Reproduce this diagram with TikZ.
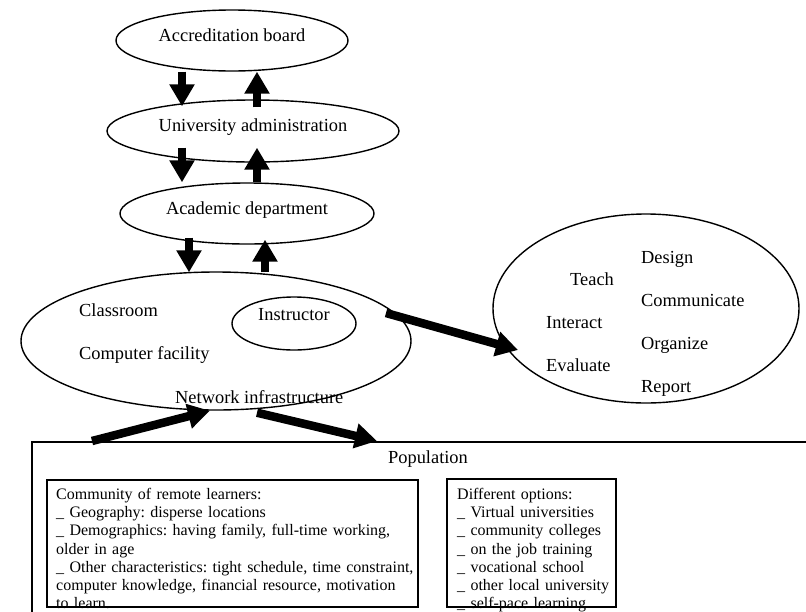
\documentclass[tikz,border=0pt]{standalone}
\usepackage{fontspec}
\setmainfont{Liberation Serif}
\usetikzlibrary{arrows.meta, shapes.geometric, positioning}
\frenchspacing

\begin{document}
\begin{tikzpicture}[x=1pt,y=-1pt,
    every node/.style={font=\fontsize{18.4}{22}\selectfont, inner sep=0pt},
    oval/.style={draw, ellipse, line width=1.4pt, text depth=11pt},
    bigarrow/.style={line width=8.5pt, -{Triangle[length=22pt,width=24pt]}},
    box/.style={draw, rectangle, anchor=north west, line width=2.2pt},
    boxtext/.style={font=\fontsize{16}{18.2}\selectfont, align=left, anchor=north west}]
    \useasboundingbox (0,0) rectangle (806,611);
    \clip (0,0) rectangle (806,611);
    \node[oval, minimum width=232pt, minimum height=61pt] (acc) at (232,40.5) {Accreditation board};
    \node[oval, minimum width=292pt, minimum height=62pt] (uni) at (253,131) {University administration};
    \node[oval, minimum width=254pt, minimum height=61pt] (acad) at (247,213.5) {Academic department};
    \node[oval, minimum width=390pt, minimum height=138pt] (campus) at (216,341) {};
    \node[oval, minimum width=124pt, minimum height=53pt, text depth=18pt] (instr) at (294,323.5) {Instructor};
    \node[anchor=base west] (room) at (79,316) {Classroom};
    \node[anchor=base west] (comp) at (79,359) {Computer facility};
    \node[anchor=base west] (net) at (175,403) {Network infrastructure};
    \node[oval, minimum width=306pt, minimum height=189pt] (tasks) at (646,308.5) {};
    \node[anchor=base west] (design) at (641,263) {Design};
    \node[anchor=base west] (teach) at (570,285) {Teach};
    \node[anchor=base west] (comm) at (641,306) {Communicate};
    \node[anchor=base west] (inter) at (546,328) {Interact};
    \node[anchor=base west] (org) at (641,349) {Organize};
    \node[anchor=base west] (eval) at (546,371) {Evaluate};
    \node[anchor=base west] (report) at (641,392) {Report};
    \node[box, line width=1.8pt, minimum width=790pt, minimum height=190pt] (pop) at (31,441) {};
    \node[anchor=base] (poptitle) at (428,463) {Population};
    \node[box, minimum width=371pt, minimum height=127pt] (learn) at (46,479) {};
    \node[boxtext, text width=360pt] (learntext) at (56,488) {Community of remote learners:\\
        \_ Geography: disperse locations\\
        \_ Demographics: having family, full-time working,\\
        older in age\\
        \_ Other characteristics: tight schedule, time constraint,\\
        computer knowledge, financial resource, motivation\\
        to learn.};
    \node[box, minimum width=169pt, minimum height=128pt] (opt) at (446,478) {};
    \node[boxtext, text width=160pt] (opttext) at (457,488) {Different options:\\
        \_ Virtual universities\\
        \_ community colleges\\
        \_ on the job training\\
        \_ vocational school\\
        \_ other local university\\
        \_ self-pace learning};
    \draw[bigarrow] ([xshift=-50pt]acc.south) -- ([xshift=-71pt,yshift=-7pt]uni.north);
    \draw[bigarrow] ([xshift=4pt,yshift=-8pt]uni.north) -- ([xshift=25pt]acc.south);
    \draw[bigarrow] ([xshift=-71pt,yshift=15pt]uni.south) -- ([xshift=-65pt]acad.north);
    \draw[bigarrow] ([xshift=10pt]acad.north) -- ([xshift=4pt,yshift=15pt]uni.south);
    \draw[bigarrow] ([xshift=-58pt,yshift=7pt]acad.south) -- ([xshift=-27pt,yshift=-1pt]campus.north);
    \draw[bigarrow] ([xshift=49pt,yshift=-1pt]campus.north) -- ([xshift=18pt,yshift=5pt]acad.south);
    \draw[bigarrow] ([xshift=170pt,yshift=28pt]campus.center) -- ([xshift=-128pt,yshift=-41.5pt]tasks.center);
    \draw[bigarrow] ([xshift=61pt]pop.north west) -- ([xshift=-6pt]campus.south);
    \draw[bigarrow] ([xshift=41pt,yshift=-2pt]campus.south) -- ([xshift=346pt]pop.north west);
\end{tikzpicture}
\end{document}
